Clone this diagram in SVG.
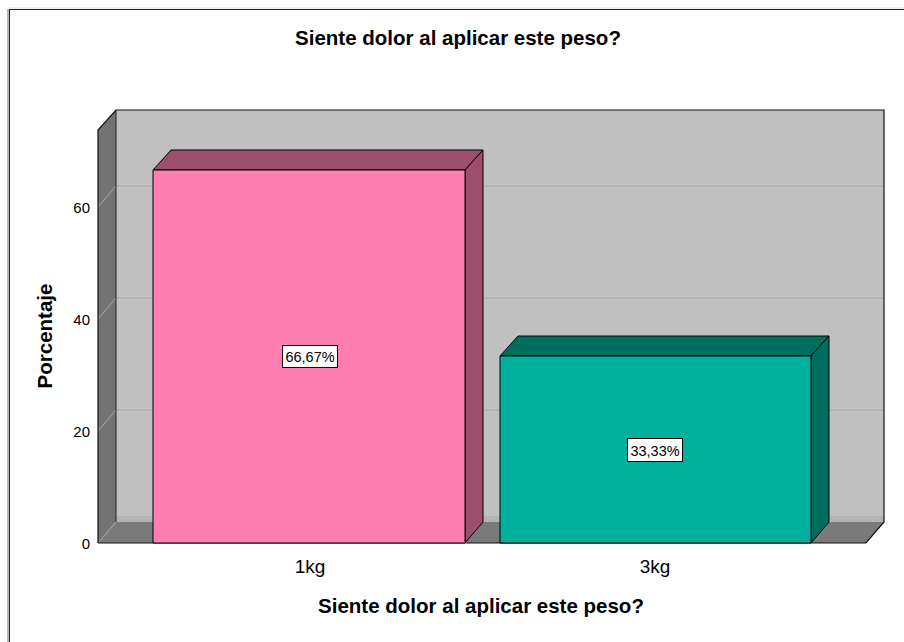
<svg xmlns="http://www.w3.org/2000/svg" width="904" height="642" viewBox="0 0 904 642">
<style>
text{font-family:"Liberation Sans",Arial,sans-serif;fill:#000}
.t{font-size:20.5px;font-weight:bold}
.tick{font-size:15px}
.cat{font-size:19px}
.lbl{font-size:14.5px}
.edge{stroke:#000;stroke-width:1;stroke-linejoin:round}
.grid{stroke:#a8a8a8;stroke-width:1}
</style>
<rect x="0" y="0" width="904" height="642" fill="#fff"/>
<g id="frame">
<line x1="8" y1="8" x2="904" y2="8" stroke="#e0e0e0" stroke-width="1"/>
<line x1="9" y1="9.5" x2="904" y2="9.5" stroke="#222" stroke-width="1"/>
<line x1="8" y1="9" x2="8" y2="642" stroke="#a0a0a0" stroke-width="1.5"/>
<line x1="9.5" y1="9" x2="9.5" y2="642" stroke="#222" stroke-width="1"/>
</g>
<g id="chart-walls">
<rect x="116" y="110" width="768" height="412" fill="#c0c0c0"/>
<rect x="116" y="516" width="768" height="6" fill="#b4b4b4"/>
<polygon points="98,130 116,110 116,522 98,543" fill="#737373"/>
<polygon points="98,543 116,522 884,522 866,543" fill="#7a7a7a"/>
<line class="grid" x1="116" y1="186" x2="884" y2="186"/>
<line class="grid" x1="116" y1="298" x2="884" y2="298"/>
<line class="grid" x1="116" y1="410" x2="884" y2="410"/>
<line class="grid" x1="98" y1="207" x2="116" y2="186"/>
<line class="grid" x1="98" y1="319" x2="116" y2="298"/>
<line class="grid" x1="98" y1="431" x2="116" y2="410"/>
<line class="grid" x1="98" y1="543" x2="116" y2="522"/>
<polyline points="98,543 98,130 116,110 884,110 884,522 866,543 98,543" fill="none" stroke="#111" stroke-width="1.2"/>
<line x1="116" y1="110" x2="116" y2="522" stroke="#222" stroke-width="1"/>
</g>
<g id="axis-y">
<text class="tick" x="90" y="213" text-anchor="end">60</text>
<text class="tick" x="90" y="325" text-anchor="end">40</text>
<text class="tick" x="90" y="437" text-anchor="end">20</text>
<text class="tick" x="90" y="549" text-anchor="end">0</text>
<text class="t" transform="translate(52,336) rotate(-90)" text-anchor="middle">Porcentaje</text>
</g>
<g id="bar-1kg">
<polygon class="edge" points="153,170 171,150 483,150 465,170" fill="#9b4f6c"/>
<polygon class="edge" points="465,170 483,150 483,522 465,543" fill="#9b4f6c"/>
<rect class="edge" x="153" y="170" width="312" height="373" fill="#ff7fb2"/>
<rect x="282.5" y="345.5" width="55" height="22" fill="#fff" stroke="#000" stroke-width="1"/>
<text class="lbl" x="310" y="362" text-anchor="middle">66,67%</text>
</g>
<g id="bar-3kg">
<polygon class="edge" points="500,356 518,336 829,336 811,356" fill="#006e5e"/>
<polygon class="edge" points="811,356 829,336 829,522 811,543" fill="#006e5e"/>
<rect class="edge" x="500" y="356" width="311" height="187" fill="#00b09c"/>
<rect x="627.5" y="438.5" width="55" height="23" fill="#fff" stroke="#000" stroke-width="1"/>
<text class="lbl" x="655" y="455.5" text-anchor="middle">33,33%</text>
</g>
<g id="axis-x">
<text class="cat" x="310" y="573" text-anchor="middle">1kg</text>
<text class="cat" x="655" y="573" text-anchor="middle">3kg</text>
<text class="t" x="481" y="613" text-anchor="middle">Siente dolor al aplicar este peso?</text>
</g>
<g id="title">
<text class="t" x="458" y="45" text-anchor="middle">Siente dolor al aplicar este peso?</text>
</g>
</svg>
